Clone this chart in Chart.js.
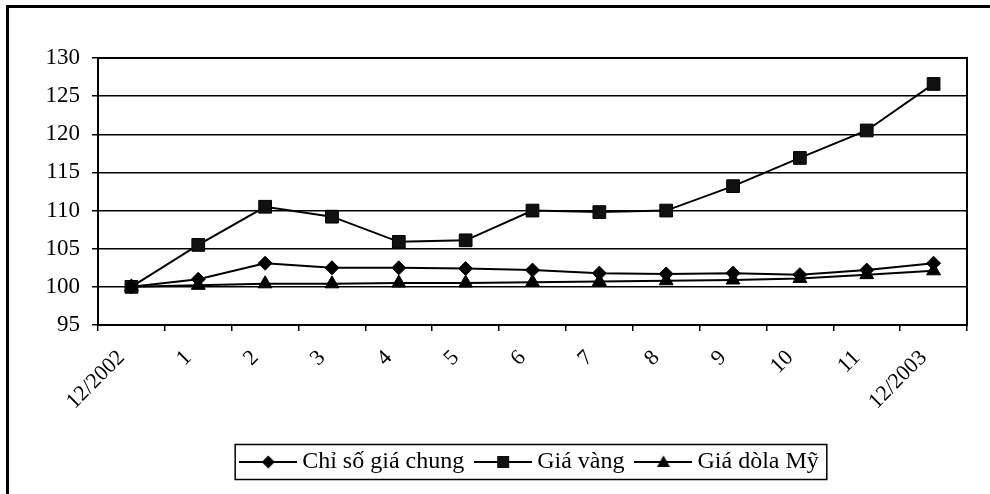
<!DOCTYPE html>
<html>
<head>
<meta charset="utf-8">
<script src="https://cdn.jsdelivr.net/npm/chart.js@4/dist/chart.umd.min.js"></script>
<style>
  html, body { margin: 0; padding: 0; background: #fff; }
  #wrap { position: relative; width: 990px; height: 494px; overflow: hidden; background: #fff; }
  #frame { position: absolute; left: 6px; top: 5px; width: 990px; height: 494px;
           border-top: 3px solid #000; border-left: 3px solid #000; box-sizing: border-box; }
  canvas { position: absolute; left: 0; top: 0; }
</style>
</head>
<body>
<div id="wrap">
  <div id="frame"></div>
  <canvas id="c" width="990" height="494"></canvas>
</div>
<script>
// ---- data ----
const categories = ['12/2002', '1', '2', '3', '4', '5', '6', '7', '8', '9', '10', '11', '12/2003'];
const seriesNames = ['Chỉ số giá chung', 'Giá vàng', 'Giá dòla Mỹ'];
const chiSoGiaChung = [100, 101.0, 103.1, 102.5, 102.5, 102.4, 102.2, 101.8, 101.7, 101.8, 101.6, 102.2, 103.1];
const giaVang = [100, 105.5, 110.5, 109.2, 105.9, 106.1, 110.0, 109.8, 110.0, 113.2, 116.9, 120.5, 126.6];
const giaDola = [100, 100.2, 100.4, 100.4, 100.5, 100.5, 100.6, 100.7, 100.8, 100.9, 101.1, 101.6, 102.1];
const yMin = 95, yMax = 130, yStep = 5;

const SERIF = "'Liberation Serif', 'Times New Roman', serif";

// legend sample images: a line with the series marker in the middle
function legendSample(kind) {
  const cv = document.createElement('canvas');
  cv.width = 58; cv.height = 24;
  const g = cv.getContext('2d');
  g.strokeStyle = '#000'; g.fillStyle = '#000'; g.lineWidth = 2;
  g.beginPath(); g.moveTo(0, 12); g.lineTo(58, 12); g.stroke();
  const cx = 29, cy = 12;
  g.beginPath();
  if (kind === 'diamond') {
    g.moveTo(cx, cy - 6.5); g.lineTo(cx + 6.5, cy); g.lineTo(cx, cy + 6.5); g.lineTo(cx - 6.5, cy); g.closePath(); g.fill();
  } else if (kind === 'square') {
    g.fillStyle = '#111';
    g.fillRect(cx - 6, cy - 6, 12, 12);
  } else {
    g.moveTo(cx, cy - 6.5); g.lineTo(cx + 6.5, cy + 5); g.lineTo(cx - 6.5, cy + 5); g.closePath(); g.fill();
  }
  return cv;
}
const legendImgs = [legendSample('diamond'), legendSample('square'), legendSample('triangle')];

const framePlugin = {
  id: 'framePlugin',
  afterDraw(chart) {
    const ctx = chart.ctx, a = chart.chartArea;
    ctx.save();
    ctx.strokeStyle = '#000';
    ctx.lineWidth = 2;
    ctx.strokeRect(a.left, a.top, a.right - a.left, a.bottom - a.top);
    // legend border
    const hb = chart.legend.legendHitBoxes;
    if (hb && hb.length) {
      const first = hb[0], last = hb[hb.length - 1];
      const cy = first.top + 12;
      const l = first.left - 11, r = last.left + last.width + 8;
      ctx.lineWidth = 1.5;
      ctx.strokeRect(l, cy - 17.5, r - l, 35);
    }
    ctx.restore();
  }
};

new Chart(document.getElementById('c'), {
  type: 'line',
  data: {
    labels: categories,
    datasets: [
      { label: seriesNames[0], data: chiSoGiaChung, borderColor: '#000', backgroundColor: '#000',
        borderWidth: 2, pointStyle: 'rectRot', pointRadius: 7, pointBorderWidth: 1, tension: 0 },
      { label: seriesNames[1], data: giaVang, borderColor: '#000', backgroundColor: '#111',
        borderWidth: 2, pointStyle: 'rect', pointRadius: 9, pointBorderWidth: 1, tension: 0 },
      { label: seriesNames[2], data: giaDola, borderColor: '#000', backgroundColor: '#000',
        borderWidth: 2, pointStyle: 'triangle', pointRadius: 8, pointBorderWidth: 1, tension: 0 }
    ]
  },
  options: {
    responsive: false,
    animation: false,
    devicePixelRatio: 1,
    layout: { padding: { top: 58, left: 20, right: 23, bottom: 10 } },
    scales: {
      x: {
        type: 'category',
        offset: true,
        grid: { display: true, drawOnChartArea: false, offset: true, color: '#000', lineWidth: 1.5, tickLength: 6 },
        border: { display: true, color: '#000', width: 2 },
        ticks: { color: '#000', font: { family: SERIF, size: 22 }, minRotation: 45, maxRotation: 45,
                 autoSkip: false, padding: 14, labelOffset: -10 },
        afterFit(scale) { scale.height = 108; }
      },
      y: {
        min: yMin, max: yMax,
        grid: { color: '#000', lineWidth: 1.5, tickLength: 6 },
        border: { display: true, color: '#000', width: 2 },
        ticks: { stepSize: yStep, color: '#000', font: { family: SERIF, size: 23 }, padding: 12 },
        afterFit(scale) { scale.width = 78; }
      }
    },
    plugins: {
      tooltip: { enabled: false },
      legend: {
        display: true,
        position: 'bottom',
        fullSize: false,
        labels: {
          usePointStyle: true,
          pointStyleWidth: 44,
          padding: 17,
          color: '#000',
          font: { family: SERIF, size: 24 },
          generateLabels(chart) {
            return chart.data.datasets.map((ds, i) => ({
              text: ds.label, fillStyle: '#000', strokeStyle: '#000', lineWidth: 0,
              hidden: false, datasetIndex: i, pointStyle: legendImgs[i], fontColor: '#000'
            }));
          }
        }
      }
    }
  },
  plugins: [framePlugin]
});
</script>
</body>
</html>
